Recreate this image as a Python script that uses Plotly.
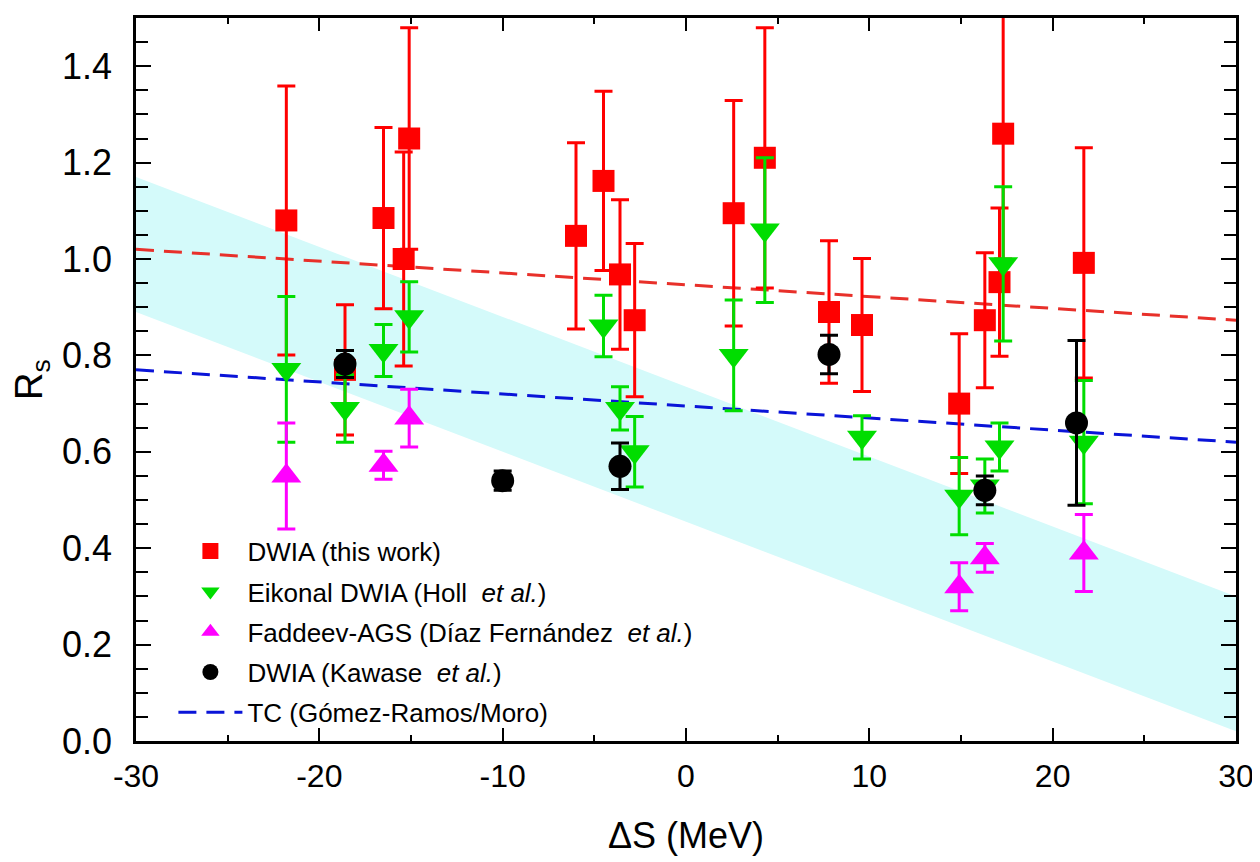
import plotly.graph_objects as go

# ---- data ----
red_x = [-21.8, -18.6, -16.5, -15.4, -15.1, -6.0, -4.5, -3.6, -2.8, 2.6, 4.3, 7.8, 9.6, 14.9, 16.3, 17.1, 17.3, 21.7]
red_y = [1.08, 0.77, 1.085, 1.00, 1.25, 1.048, 1.162, 0.968, 0.873, 1.095, 1.21, 0.89, 0.863, 0.70, 0.873, 0.952, 1.26, 0.992]
red_err = [0.279, 0.135, 0.188, 0.222, 0.23, 0.193, 0.186, 0.155, 0.159, 0.234, 0.27, 0.148, 0.138, 0.145, 0.14, 0.154, 0.26, 0.239]

green_x = [-21.8, -18.6, -16.5, -15.1, -4.5, -3.6, -2.8, 2.6, 4.3, 9.6, 14.9, 16.3, 17.1, 17.3, 21.7]
green_y = [0.771, 0.69, 0.81, 0.88, 0.861, 0.69, 0.60, 0.80, 1.06, 0.63, 0.508, 0.529, 0.61, 0.99, 0.62]
green_err = [0.151, 0.07, 0.054, 0.073, 0.064, 0.045, 0.073, 0.115, 0.15, 0.045, 0.08, 0.056, 0.05, 0.16, 0.128]

mag_x = [-21.8, -16.5, -15.1, 14.9, 16.3, 21.7]
mag_y = [0.55, 0.572, 0.67, 0.32, 0.38, 0.39]
mag_err = [0.11, 0.029, 0.06, 0.05, 0.03, 0.08]

blk_x = [-18.6, -10.0, -3.6, 7.8, 16.3, 21.3]
blk_y = [0.782, 0.54, 0.57, 0.802, 0.52, 0.66]
blk_err = [0.028, 0.02, 0.048, 0.04, 0.03, 0.171]

line_x = [-30, 30]
red_line_y = [1.02, 0.873]
blue_line_y = [0.77, 0.62]

band_x = [-30, 30]
band_upper = [1.17, 0.30]
band_lower = [0.89, 0.02]

x_tickvals = [-30, -20, -10, 0, 10, 20, 30]
x_ticktext = ["-30", "-20", "-10", "0", "10", "20", "30"]

FONT = "Liberation Sans, Arial, sans-serif"

fig = go.Figure()

# band
fig.add_trace(go.Scatter(
    x=band_x + band_x[::-1], y=band_upper + band_lower[::-1],
    fill="toself", fillcolor="#d4fafa", line=dict(width=0),
    mode="lines", showlegend=False, hoverinfo="skip"))

# red dashed line
fig.add_trace(go.Scatter(x=line_x, y=red_line_y, mode="lines",
                         line=dict(color="#e8302a", width=3, dash="18px,10px"),
                         showlegend=False))
# blue dashed line
fig.add_trace(go.Scatter(x=line_x, y=blue_line_y, mode="lines",
                         line=dict(color="#0a14d8", width=3, dash="18px,10px"),
                         name="TC (Gómez-Ramos/Moro)", legendrank=5, legendgroup="e"))

fig.add_trace(go.Scatter(
    x=red_x, y=red_y, mode="markers", name="DWIA (this work)",
    marker=dict(symbol="square", size=22, color="#ff0000"),
    error_y=dict(type="data", array=red_err, color="#ff0000", thickness=3, width=9),
    legendrank=1, legendgroup="a"))

fig.add_trace(go.Scatter(
    x=green_x, y=green_y, mode="markers", name="Eikonal DWIA (Holl  <i>et al.</i>)",
    marker=dict(symbol="triangle-down", size=26, color="#00dd00"),
    error_y=dict(type="data", array=green_err, color="#00dd00", thickness=3, width=9),
    legendrank=2, legendgroup="b"))

fig.add_trace(go.Scatter(
    x=mag_x, y=mag_y, mode="markers", name="Faddeev-AGS (Díaz Fernández  <i>et al.</i>)",
    marker=dict(symbol="triangle-up", size=26, color="#ff00ff"),
    error_y=dict(type="data", array=mag_err, color="#ff00ff", thickness=3, width=9),
    legendrank=3, legendgroup="c"))

fig.add_trace(go.Scatter(
    x=blk_x, y=blk_y, mode="markers", name="DWIA (Kawase  <i>et al.</i>)",
    marker=dict(symbol="circle", size=23, color="#000000"),
    error_y=dict(type="data", array=blk_err, color="#000000", thickness=3, width=9),
    legendrank=4, legendgroup="d"))

fig.update_layout(
    width=1260, height=862,
    margin=dict(l=128, r=32, t=7, b=129),
    plot_bgcolor="white", paper_bgcolor="white",
    font=dict(family=FONT, color="black"),
    legend=dict(x=0.034, y=0.295, xanchor="left", yanchor="top",
                bgcolor="rgba(0,0,0,0)", font=dict(size=26, family=FONT),
                traceorder="grouped", tracegroupgap=3.5, itemwidth=64),
    xaxis=dict(range=[-30, 30], tickvals=x_tickvals, ticktext=x_ticktext,
               showgrid=False, zeroline=False,
               showline=True, linecolor="black", linewidth=2.5, mirror="allticks",
               ticks="inside", ticklen=13, tickwidth=2, tickcolor="black",
               minor=dict(dtick=5, ticks="inside", ticklen=6, tickwidth=2, tickcolor="black"),
               tickfont=dict(size=32, family=FONT), ticklabelstandoff=5,
               title=dict(text="ΔS (MeV)", font=dict(size=36, family=FONT), standoff=30)),
    yaxis=dict(range=[0, 1.5], dtick=0.2, tick0=0, tickformat=".1f", showgrid=False, zeroline=False,
               showline=True, linecolor="black", linewidth=2.5, mirror="allticks",
               ticks="inside", ticklen=15, tickwidth=2, tickcolor="black",
               minor=dict(dtick=0.05, ticks="inside", ticklen=12, tickwidth=2, tickcolor="black"),
               tickfont=dict(size=36, family=FONT), ticklabelstandoff=14,
               title=dict(text="R<sub>s</sub>", font=dict(size=38, family=FONT), standoff=14)),
)

fig.write_html("out.html")
